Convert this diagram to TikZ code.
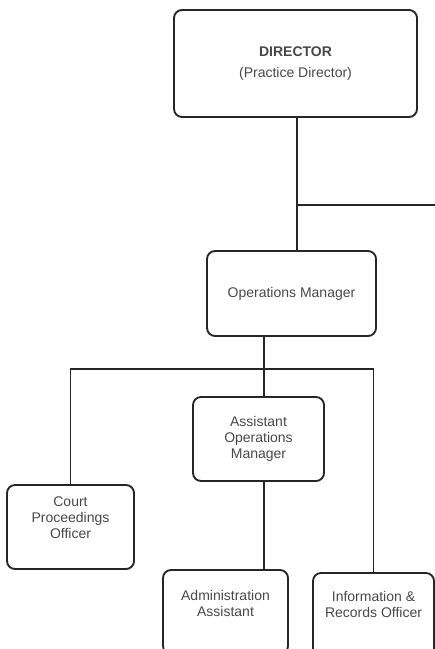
\documentclass[tikz,border=0pt]{standalone}
\usepackage{fontspec}
\setmainfont{Liberation Sans}

\tikzset{every picture/.style={line width=0.75pt}}
\tikzset{
	post/.style={draw=black!85, line width=1.4pt, rounded corners=6pt, align=center, inner sep=2pt, text=black!72, font=\fontsize{10.5}{12}\selectfont},
	link/.style={draw=black!85, line width=1.4pt},
}

\begin{document}
\begin{tikzpicture}[x=0.75pt,y=0.75pt,yscale=-1,xscale=1]
	%set diagram to 435 x 649, boxes at the bottom run off the page
	\clip (0,0) rectangle (435,649);
	
	%Rounded Rect: director
	\node[post, minimum width=182.25pt, minimum height=80.25pt] (director) at (295.5,63.5) {\textbf{DIRECTOR}\\[4pt](Practice Director)};
	%Rounded Rect: operations manager
	\node[post, minimum width=126.75pt, minimum height=63.75pt] (ops) at (291.5,293.5) {Operations Manager};
	%Rounded Rect: assistant operations manager
	\node[post, minimum width=98.25pt, minimum height=63pt] (aom) at (258.5,439) {Assistant\\Operations\\Manager};
	%Rounded Rect: court proceedings officer
	\node[post, minimum width=95.25pt, minimum height=63pt, text depth=13.5pt] (court) at (70.5,527) {Court\\Proceedings\\Officer};
	%Rounded Rect: administration assistant
	\node[post, minimum width=93.75pt, minimum height=63pt, text depth=13.5pt] (admin) at (225.5,612) {Administration\\Assistant};
	%Rounded Rect: information and records officer
	\node[post, minimum width=90.75pt, minimum height=63pt, text depth=16pt] (info) at (373.5,615) {Information \&\\Records Officer};
	
	%Straight Lines
	\coordinate (trunk) at (297,205);
	\coordinate (side) at (440,205);
	\coordinate (spine) at (264,369);
	\draw[link] (director.south -| trunk) -- (ops.north -| trunk) ;
	\draw[link] (trunk) -- (side) ;
	\draw[link] (ops.south -| spine) -- (aom.north -| spine) ;
	\draw[link] (court.north) -- (court.north |- spine) -- (info.north |- spine) -- (info.north) ;
	\draw[link] (aom.south -| spine) -- (admin.north -| spine) ;
	
\end{tikzpicture}
\end{document}
